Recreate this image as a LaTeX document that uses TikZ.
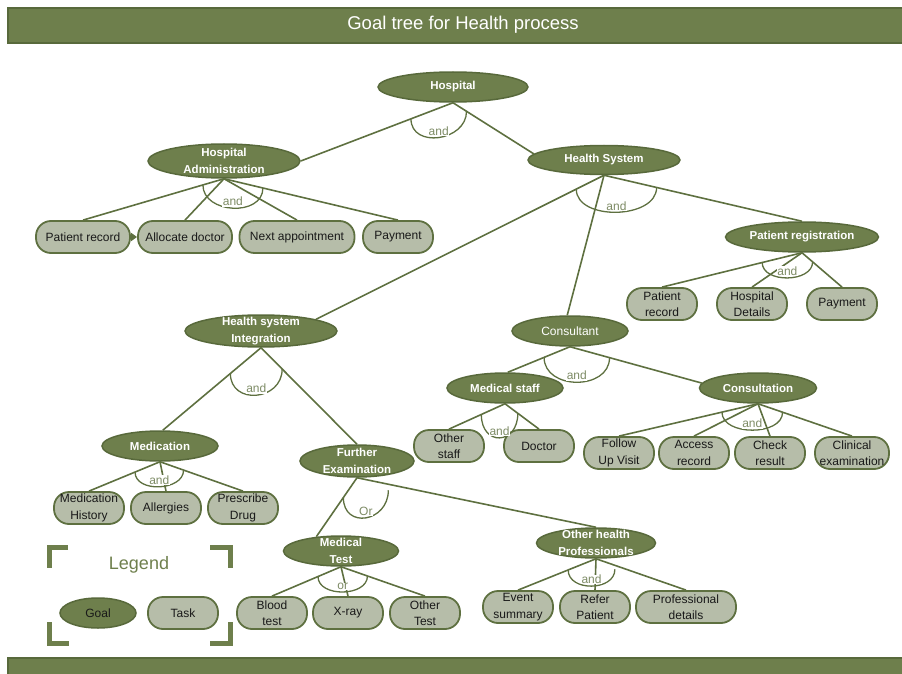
\documentclass[tikz,border=0pt]{standalone}
\usepackage{fontspec}
\setmainfont{Liberation Sans}
\usepackage{tikz}
\usetikzlibrary{arrows.meta,shapes.geometric,calc}
\definecolor{goalfill}{HTML}{6E7F4C}
\definecolor{goalline}{HTML}{58693B}
\definecolor{taskfill}{HTML}{B6BDA9}
\definecolor{taskline}{HTML}{5E7040}
\definecolor{andtext}{HTML}{7E8C66}
\tikzset{
    goal/.style={
           ellipse,
           draw=goalline,
           fill=goalfill,
           line width=1.5pt,
           text=white,
           font=\bfseries\fontsize{11.5}{17}\selectfont,
           align=center,
           inner xsep=0pt,
           inner ysep=-6pt,
           minimum height=30pt,
           },
    task/.style={
           rectangle,
           rounded corners=15pt,
           draw=taskline,
           fill=taskfill,
           line width=1.8pt,
           text=black!90,
           font=\fontsize{12}{16.5}\selectfont,
           align=center,
           inner sep=0pt,
           minimum height=32pt,
           minimum width=70pt,
           },
    link/.style={draw=taskline, line width=1.6pt},
    andarc/.style={draw=taskline, line width=1.3pt},
    andlabel/.style={text=andtext, font=\fontsize{12}{13}\selectfont,
           fill=white, inner sep=0.5pt},
    bar/.style={draw=goalline, fill=goalfill, line width=1.5pt},
    corner/.style={draw=goalfill, line width=5pt},
}

\begin{document}
\begin{tikzpicture}[x=1pt,y=-1pt]
 \useasboundingbox (0,0) rectangle (902,674);

 % title and footer bars
 \draw[bar] (8,8) rectangle (904,43);
 \node[text=white, font=\fontsize{18.5}{20}\selectfont] (TITLE) at (463,25)
   {Goal tree for Health process};
 \draw[bar] (8,658) rectangle (904,678);

 % goals
 \node[goal, minimum width=150pt] (HOSP) at (453,87) {Hospital};
 \node[goal, minimum width=152pt, minimum height=34pt] (HADMIN) at (224,161)
   {Hospital\\Administration};
 \node[goal, minimum width=152pt, minimum height=29pt] (HSYS) at (604,160)
   {Health System};
 \node[goal, minimum width=153pt] (PREG) at (802,237) {Patient registration};
 \node[goal, minimum width=152pt, minimum height=32pt] (HSI) at (261,331)
   {Health system\\Integration};
 \node[goal, minimum width=116pt, font=\fontsize{12}{13}\selectfont] (CONS)
   at (570,331) {Consultant};
 \node[goal, minimum width=116pt] (MSTAFF) at (505,388) {Medical staff};
 \node[goal, minimum width=117pt] (CONSN) at (758,388) {Consultation};
 \node[goal, minimum width=116pt] (MED) at (160,446) {Medication};
 \node[goal, minimum width=114pt, minimum height=32pt] (FEXAM) at (357,461)
   {Further\\Examination};
 \node[goal, minimum width=115pt] (MTEST) at (341,551) {Medical\\Test};
 \node[goal, minimum width=119pt] (OHP) at (596,543)
   {Other health\\Professionals};

 % tasks
 \node[task, minimum width=94pt] (PREC1) at (83,237) {Patient record};
 \node[task, minimum width=94pt] (ALLOC) at (185,237) {Allocate doctor};
 \node[task, minimum width=115pt] (NAPPT) at (297,237) {Next appointment};
 \node[task] (PAY1) at (398,237) {Payment};
 \node[task] (PREC2) at (662,304) {Patient\\record};
 \node[task] (HDET) at (752,304) {Hospital\\Details};
 \node[task] (PAY2) at (842,304) {Payment};
 \node[task] (OSTAFF) at (449,446) {Other\\staff};
 \node[task] (DOCTOR) at (539,446) {Doctor};
 \node[task] (FUP) at (619,453) {Follow\\Up Visit};
 \node[task] (ACCESS) at (694,453) {Access\\record};
 \node[task] (CHECK) at (770,453) {Check\\result};
 \node[task, minimum width=74pt] (CLIN) at (852,453) {Clinical\\examination};
 \node[task] (MHIST) at (89,508) {Medication\\History};
 \node[task] (ALLERG) at (166,508) {Allergies};
 \node[task] (PRESC) at (243,508) {Prescribe\\Drug};
 \node[task] (BLOOD) at (272,613) {Blood\\test};
 \node[task] (XRAY) at (348,613) {X-ray};
 \node[task] (OTEST) at (425,613) {Other\\Test};
 \node[task] (EVENT) at (518,607) {Event\\summary};
 \node[task] (REFER) at (595,607) {Refer\\Patient};
 \node[task, minimum width=100pt] (PROF) at (686,607) {Professional\\details};

 % links
 \path[link] (HOSP.south) edge (HADMIN.east) edge (HSYS.175);
 \path[link] (HADMIN.south) edge (PREC1.north) edge (ALLOC.north)
   edge (NAPPT.north) edge (PAY1.north);
 \path[link] (HSYS.south) edge (HSI.12) edge (CONS.100) edge (PREG.north);
 \path[link] (PREG.south) edge (PREC2.north) edge (HDET.north) edge (PAY2.north);
 \path[link] (HSI.south) edge (MED.80) edge (FEXAM.north);
 \path[link] (CONS.south) edge (MSTAFF.80) edge (CONSN.175);
 \path[link] (MSTAFF.south) edge (OSTAFF.north) edge (DOCTOR.north);
 \path[link] (CONSN.south) edge (FUP.north) edge (ACCESS.north)
   edge (CHECK.north) edge (CLIN.north);
 \path[link] (MED.south) edge (MHIST.north) edge (ALLERG.north) edge (PRESC.north);
 \path[link] (FEXAM.south) edge (MTEST.150) edge (OHP.north);
 \path[link] (MTEST.south) edge (BLOOD.north) edge (XRAY.north) edge (OTEST.north);
 \path[link] (OHP.south) edge (EVENT.north) edge (REFER.north) edge (PROF.north);
 \draw[link, -{Triangle[length=6pt,width=8pt]}] (PREC1) -- (ALLOC);

 % and / or arcs
 \draw[andarc] ($(HOSP.south)!45pt!(HADMIN.east)$) .. controls +(0,30) and +(0,30) ..
   node[andlabel, above=1pt] {and} ($(HOSP.south)!16pt!(HSYS.175)$);
 \draw[andarc] ($(HADMIN.south)!22pt!(PREC1.north)$) .. controls +(0,29) and +(0,29) ..
   node[andlabel, above=1pt] {and} ($(HADMIN.south)!40pt!(PAY1.north)$);
 \draw[andarc] ($(HSYS.south)!31pt!(HSI.12)$) .. controls +(0,32) and +(0,32) ..
   node[andlabel, above=1pt] {and} ($(HSYS.south)!54pt!(PREG.north)$);
 \draw[andarc] ($(PREG.south)!41pt!(PREC2.north)$) .. controls +(0,21) and +(0,21) ..
   node[andlabel, above=1pt] {and} ($(PREG.south)!14pt!(PAY2.north)$);
 \draw[andarc] ($(HSI.south)!40pt!(MED.80)$) .. controls +(0,32) and +(0,32) ..
   node[andlabel, above=1pt] {and} ($(HSI.south)!30pt!(FEXAM.north)$);
 \draw[andarc] ($(CONS.south)!28pt!(MSTAFF.80)$) .. controls +(0,33) and +(0,33) ..
   node[andlabel, above=1pt] {and} ($(CONS.south)!41pt!(CONSN.175)$);
 \draw[andarc] ($(MSTAFF.south)!26pt!(OSTAFF.north)$) .. controls +(0,32) and +(0,32) ..
   node[andlabel, above=1pt] {and} ($(MSTAFF.south)!16pt!(DOCTOR.north)$);
 \draw[andarc] ($(CONSN.south)!37pt!(FUP.north)$) .. controls +(0,24) and +(0,24) ..
   node[andlabel, above=1pt] {and} ($(CONSN.south)!26pt!(CLIN.north)$);
 \draw[andarc] ($(MED.south)!27pt!(MHIST.north)$) .. controls +(0,21) and +(0,21) ..
   node[andlabel, above=1pt] {and} ($(MED.south)!25pt!(PRESC.north)$);
 \draw[andarc] ($(FEXAM.south)!24pt!(MTEST.150)$) .. controls +(0,32) and +(0,32) ..
   node[andlabel, above=1pt] {Or} ($(FEXAM.south)!32pt!(OHP.north) + (0,6)$);
 \draw[andarc] ($(MTEST.south)!25pt!(BLOOD.north)$) .. controls +(0,21) and +(0,21) ..
   node[andlabel, above=1pt] {or} ($(MTEST.south)!28pt!(OTEST.north)$);
 \draw[andarc] ($(OHP.south)!30pt!(EVENT.north)$) .. controls +(0,22) and +(0,22) ..
   node[andlabel, above=1pt] {and} ($(OHP.south)!20pt!(PROF.north) + (0,4)$);

 % legend
 \draw[corner] (68,547.5) -- (49.5,547.5) -- (49.5,568);
 \draw[corner] (210,547.5) -- (230.5,547.5) -- (230.5,568);
 \draw[corner] (49.5,622) -- (49.5,643.5) -- (69,643.5);
 \draw[corner] (230.5,622) -- (230.5,643.5) -- (210,643.5);
 \node[text=goalfill, font=\fontsize{18}{20}\selectfont] (LEGEND) at (139,565) {Legend};
 \node[goal, minimum width=76pt, text=black!90, font=\fontsize{12}{13}\selectfont]
   (LGOAL) at (98,613) {Goal};
 \node[task] (LTASK) at (183,613) {Task};
\end{tikzpicture}
\end{document}
